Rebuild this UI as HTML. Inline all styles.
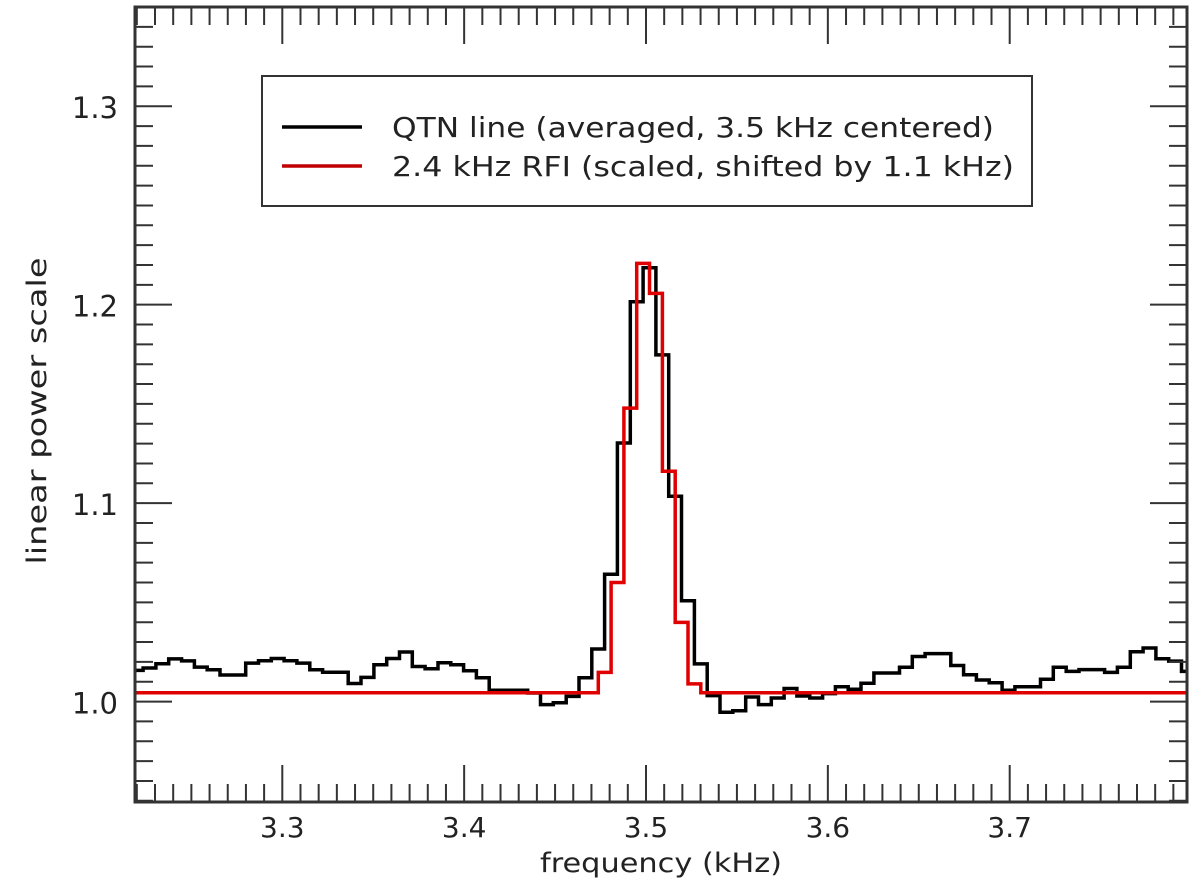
<!DOCTYPE html>
<html><head><meta charset="utf-8"><style>
html,body{margin:0;padding:0;background:#fff;}
svg{display:block;font-family:"DejaVu Sans","Liberation Sans",sans-serif;}
</style></head><body>
<svg id="chart" width="1200" height="888" viewBox="0 0 1200 888">
<g id="plot"></g>
</svg>
<script>
const xTicks = [3.3, 3.4, 3.5, 3.6, 3.7];
const xTickLabels = ["3.3", "3.4", "3.5", "3.6", "3.7"];
const yTicks = [1.0, 1.1, 1.2, 1.3];
const yTickLabels = ["1.0", "1.1", "1.2", "1.3"];
const binWidth = 0.00705;
const qtnStart = 3.2164;
const qtnValues = [1.0157,1.0169,1.0191,1.0215,1.0205,1.0174,1.016,1.0134,1.0134,1.0194,
1.0206,1.0217,1.0206,1.0194,1.016,1.0148,1.0148,1.0091,1.0122,1.0186,
1.0217,1.025,1.0177,1.0165,1.0196,1.0186,1.0155,1.012,1.0057,1.0057,
1.0057,1.0043,0.9985,0.9994,1.0026,1.012,1.0265,1.0642,1.1303,1.2015,
1.2186,1.1747,1.1035,1.0508,1.019,1.003,0.9946,0.9954,1.0023,0.9985,
1.0018,1.0066,1.0028,1.0018,1.004,1.0075,1.0062,1.0092,1.0144,1.0144,
1.0173,1.0227,1.0242,1.0242,1.0182,1.0135,1.0109,1.0095,1.0057,1.0075,
1.0075,1.0113,1.0173,1.0152,1.0161,1.0161,1.0147,1.0173,1.0251,1.027,
1.0216,1.0204,1.0152];
const rfiStart = 3.2129;
const rfiValues = [1.0045,1.0045,1.0045,1.0045,1.0045,1.0045,1.0045,1.0045,1.0045,1.0045,
1.0045,1.0045,1.0045,1.0045,1.0045,1.0045,1.0045,1.0045,1.0045,1.0045,
1.0045,1.0045,1.0045,1.0045,1.0045,1.0045,1.0045,1.0045,1.0045,1.0045,
1.0045,1.0045,1.0045,1.0045,1.0045,1.0045,1.0045,
1.0147,1.06,1.1479,1.2208,1.2057,1.1161,1.0399,1.0089,
1.0045,1.0045,1.0045,1.0045,1.0045,1.0045,1.0045,1.0045,1.0045,1.0045,
1.0045,1.0045,1.0045,1.0045,1.0045,1.0045,1.0045,1.0045,1.0045,1.0045,
1.0045,1.0045,1.0045,1.0045,1.0045,1.0045,1.0045,1.0045,1.0045,1.0045,
1.0045,1.0045,1.0045,1.0045,1.0045,1.0045,1.0045,1.0045];

const NS='http://www.w3.org/2000/svg';
const L=135,R=1187,T=7,B=802;
const xMin=3.219,xMax=3.7975,yMin=0.9494,yMax=1.35;
const sx=v=>L+(v-xMin)/(xMax-xMin)*(R-L);
const sy=v=>B-(v-yMin)/(yMax-yMin)*(B-T);
const svg=document.getElementById('chart');
const plot=document.getElementById('plot');
function mk(tag,attrs,parent){const e=document.createElementNS(NS,tag);for(const k in attrs)e.setAttribute(k,attrs[k]);(parent||svg).appendChild(e);return e;}

const defs=mk('defs',{});
const cp=mk('clipPath',{id:'clip'},defs);
mk('rect',{x:L,y:T,width:R-L,height:B-T},cp);

function stepPath(start,vals){
  let d='';
  vals.forEach((v,i)=>{
    const x0=sx(start+i*binWidth),x1=sx(start+(i+1)*binWidth),y=sy(v);
    d+=(i===0?'M':'L')+x0.toFixed(1)+','+y.toFixed(1)+'L'+x1.toFixed(1)+','+y.toFixed(1);
  });
  return d;
}
const g=mk('g',{'clip-path':'url(#clip)'},plot);
const qtn=mk('path',{d:stepPath(qtnStart,qtnValues),fill:'none',stroke:'#000','stroke-width':3.5},g);


const rfi=mk('path',{d:stepPath(rfiStart,rfiValues),fill:'none',stroke:'#e00000','stroke-width':3.5},g);



const tickG=mk('g',{stroke:'#333','stroke-width':2});


for(let k=Math.ceil(xMin*100);k<=Math.floor(xMax*100);k++){
  const v=k/100,x=sx(v),major=(k%10===0),len=major?37:18;
  mk('line',{x1:x,y1:B,x2:x,y2:B-len},tickG);
  mk('line',{x1:x,y1:T,x2:x,y2:T+len},tickG);
}
for(let k=Math.ceil(yMin*100);k<=Math.floor(yMax*100);k++){
  const v=k/100,y=sy(v),major=(k%10===0),len=major?37:18;
  mk('line',{x1:L,y1:y,x2:L+len,y2:y},tickG);
  mk('line',{x1:R,y1:y,x2:R-len,y2:y},tickG);
}
const frame=mk('rect',{x:L,y:T,width:R-L,height:B-T,fill:'none',stroke:'#333','stroke-width':3});



xTicks.forEach((v,i)=>{
  const t=mk('text',{x:sx(v),y:837,'text-anchor':'middle','font-size':28,fill:'#222'});
  t.textContent=xTickLabels[i];
  
  
});
yTicks.forEach((v,i)=>{
  const t=mk('text',{x:118,y:sy(v)+12,'text-anchor':'end','font-size':29,fill:'#222'});
  t.textContent=yTickLabels[i];
  
  
});
const xt=mk('text',{x:661,y:872,'text-anchor':'middle','font-size':27,fill:'#222',textLength:242,lengthAdjust:'spacingAndGlyphs'});
xt.textContent='frequency (kHz)';


const yt=mk('text',{x:0,y:0,'text-anchor':'middle','font-size':27,fill:'#222',textLength:307,lengthAdjust:'spacingAndGlyphs',transform:'translate(46,411) rotate(-90)'});
yt.textContent='linear power scale';



const lg=mk('g',{});


mk('rect',{x:262,y:76,width:770,height:130,fill:'#fff',stroke:'#333','stroke-width':2},lg);
mk('line',{x1:282,y1:127,x2:362,y2:127,stroke:'#000','stroke-width':3.5},lg);
mk('line',{x1:282,y1:166,x2:362,y2:166,stroke:'#c00000','stroke-width':3.5},lg);
const l1=mk('text',{x:392,y:137,'font-size':28,fill:'#222',textLength:602,lengthAdjust:'spacingAndGlyphs'},lg);
l1.textContent='QTN line (averaged, 3.5 kHz centered)';


const l2=mk('text',{x:392,y:176,'font-size':28,fill:'#222',textLength:622,lengthAdjust:'spacingAndGlyphs'},lg);
l2.textContent='2.4 kHz RFI (scaled, shifted by 1.1 kHz)';


</script>
</body></html>
